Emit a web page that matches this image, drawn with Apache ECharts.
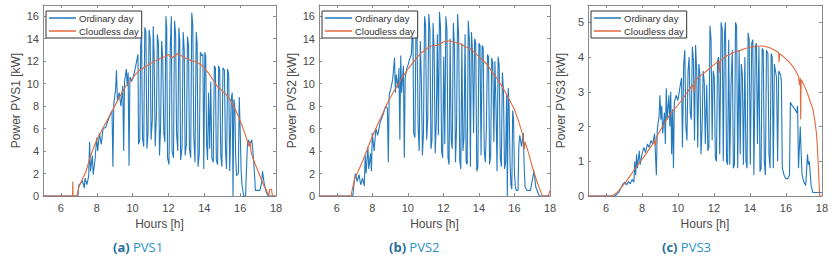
<!DOCTYPE html>
<html>
<head>
<meta charset="utf-8">
<script src="https://cdn.jsdelivr.net/npm/echarts@6/dist/echarts.min.js"></script>
<style>
  html, body { margin: 0; padding: 0; background: #fff; }
  #chart { width: 831px; height: 262px; }
</style>
</head>
<body>
<div id="chart"></div>
<script>
// hour ticks shared by all three panels
const hourTicks = [6, 8, 10, 12, 14, 16, 18];
const kwTicksBig = [0, 2, 4, 6, 8, 10, 12, 14, 16];
const kwTicksSmall = [0, 1, 2, 3, 4, 5];

// PVS1 [hour, kW]
const pvs1Ordinary = [[5,0],[6.95,0],[7.0,1.0],[7.1,1.1],[7.2,1.4],[7.3,0.7],[7.35,1.6],[7.45,1.0],[7.55,1.8],[7.6,4.8],[7.65,2.2],[7.75,3.6],[7.8,1.9],[7.9,3.2],[8.0,5.2],[8.05,4.0],[8.15,5.6],[8.25,4.6],[8.35,6.0],[8.5,6.1],[8.6,6.6],[8.75,7.2],[8.85,7.6],[8.9,2.6],[8.95,8.2],[9.05,9.5],[9.1,11.2],[9.15,8.5],[9.25,9.2],[9.35,8.0],[9.45,9.8],[9.5,4.0],[9.55,10.2],[9.65,11.3],[9.7,9.8],[9.75,11.0],[9.8,2.7],[9.85,10.6],[9.95,10.2],[10.0,10.4],[10.1,11.0],[10.2,11.8],[10.3,12.6],[10.33,4.6],[10.4,5.0],[10.45,13.4],[10.5,14.6],[10.55,5.2],[10.62,4.4],[10.68,15.0],[10.74,14.6],[10.8,4.2],[10.86,5.6],[10.92,14.8],[10.98,14.0],[11.03,5.0],[11.1,6.8],[11.15,15.1],[11.2,12.6],[11.26,4.4],[11.33,7.2],[11.38,14.4],[11.44,13.6],[11.5,3.6],[11.56,6.0],[11.62,13.8],[11.68,12.2],[11.74,5.6],[11.8,4.8],[11.86,16.0],[11.9,15.0],[11.95,3.4],[12.03,2.8],[12.1,13.2],[12.16,16.0],[12.2,4.0],[12.28,3.4],[12.34,15.6],[12.4,14.4],[12.45,5.6],[12.52,4.0],[12.58,15.0],[12.63,13.8],[12.68,3.2],[12.76,4.4],[12.82,14.6],[12.88,13.0],[12.93,3.6],[13.0,4.6],[13.06,14.2],[13.12,13.4],[13.17,4.2],[13.24,3.4],[13.3,16.3],[13.36,15.2],[13.41,5.4],[13.48,3.0],[13.55,14.6],[13.6,13.6],[13.65,2.6],[13.72,3.8],[13.78,12.8],[13.85,12.5],[13.92,12.6],[13.97,2.4],[14.03,12.8],[14.08,12.4],[14.13,4.6],[14.18,3.2],[14.24,9.2],[14.3,4.2],[14.36,10.2],[14.42,3.4],[14.5,3.0],[14.56,11.6],[14.62,11.4],[14.67,3.2],[14.74,2.8],[14.8,11.6],[14.86,11.2],[14.92,3.6],[14.98,2.6],[15.04,11.4],[15.12,11.2],[15.18,4.2],[15.24,2.4],[15.3,11.3],[15.36,10.8],[15.42,2.2],[15.5,8.6],[15.56,9.2],[15.6,0],[15.65,8.6],[15.7,8.0],[15.75,3.5],[15.8,1.8],[15.9,2.0],[15.95,8.8],[16.0,6.0],[16.05,2.5],[16.1,1.0],[16.2,0],[16.3,0],[16.4,4.4],[16.45,5.0],[16.55,4.6],[16.65,5.0],[16.7,4.2],[16.8,2.0],[16.85,0.5],[17.0,0.5],[17.1,0.5],[17.2,1.2],[17.25,2.2],[17.35,1.0],[17.45,0.4],[17.55,0],[18,0]];
const pvs1Cloudless = [[5,0],[6.65,0],[6.66,1.3],[6.68,0],[6.9,0],[7.0,0.8],[7.2,1.5],[7.4,2.2],[7.6,3.3],[7.8,4.2],[8.0,5.0],[8.2,5.6],[8.4,6.2],[8.6,6.8],[8.8,7.4],[9.0,8.0],[9.2,8.6],[9.4,9.2],[9.6,9.7],[9.8,10.1],[10.0,10.5],[10.2,10.9],[10.4,11.2],[10.6,11.4],[10.8,11.6],[11.0,11.8],[11.2,12.0],[11.4,12.1],[11.6,12.3],[11.8,12.4],[12.0,12.6],[12.1,12.4],[12.2,12.3],[12.4,12.5],[12.5,12.7],[12.7,12.5],[12.9,12.3],[13.1,12.2],[13.3,12.0],[13.5,12.0],[13.7,11.8],[13.9,11.6],[14.1,11.2],[14.3,10.8],[14.5,10.3],[14.7,9.8],[14.9,9.5],[15.1,9.2],[15.3,8.9],[15.5,8.4],[15.7,7.8],[15.9,7.1],[16.1,6.3],[16.3,5.4],[16.5,4.4],[16.55,4.9],[16.6,4.0],[16.7,3.4],[16.9,2.6],[17.1,1.8],[17.3,1.0],[17.5,0.4],[17.6,0],[17.65,0.6],[17.75,0.6],[17.8,0],[18,0]];

// PVS2 [hour, kW]
const pvs2Ordinary = [[5,0],[6.9,0],[7.0,1.5],[7.05,2.0],[7.15,1.3],[7.25,1.9],[7.35,1.0],[7.45,1.6],[7.55,0.9],[7.6,3.6],[7.65,2.0],[7.75,4.4],[7.8,2.4],[7.9,3.8],[7.95,2.2],[8.0,5.6],[8.1,4.0],[8.2,6.0],[8.3,5.4],[8.45,6.6],[8.6,7.2],[8.75,8.0],[8.85,7.8],[8.9,3.0],[8.95,9.0],[9.05,9.6],[9.15,10.4],[9.25,12.3],[9.3,9.2],[9.35,10.8],[9.45,9.6],[9.5,11.4],[9.55,5.0],[9.6,12.5],[9.65,9.2],[9.75,11.6],[9.8,3.4],[9.85,10.5],[9.95,11.4],[10.0,11.6],[10.1,12.2],[10.2,12.6],[10.28,15.8],[10.33,5.6],[10.4,5.2],[10.46,15.6],[10.52,14.0],[10.58,6.0],[10.64,4.0],[10.7,13.8],[10.76,10.4],[10.82,3.6],[10.88,5.6],[10.94,16.0],[11.0,15.2],[11.06,5.0],[11.12,7.0],[11.18,16.2],[11.24,14.8],[11.3,4.2],[11.36,5.0],[11.42,15.4],[11.48,13.0],[11.54,3.8],[11.6,6.4],[11.66,14.4],[11.72,5.4],[11.78,16.4],[11.84,15.0],[11.9,4.0],[11.96,3.4],[12.02,12.4],[12.08,4.6],[12.14,16.0],[12.2,14.8],[12.26,3.4],[12.32,2.8],[12.38,14.0],[12.44,5.0],[12.5,4.2],[12.56,15.4],[12.62,13.4],[12.68,3.0],[12.74,6.0],[12.8,16.2],[12.86,14.2],[12.92,3.2],[12.98,2.4],[13.04,13.6],[13.1,4.0],[13.16,5.2],[13.22,14.4],[13.28,3.0],[13.34,2.8],[13.4,15.6],[13.46,14.0],[13.52,2.6],[13.58,14.6],[13.64,12.8],[13.7,5.6],[13.76,14.0],[13.82,13.6],[13.88,2.2],[13.94,2.6],[14.0,13.6],[14.06,13.4],[14.12,3.6],[14.18,13.4],[14.24,13.2],[14.3,4.0],[14.36,3.0],[14.42,6.0],[14.48,12.6],[14.54,12.4],[14.6,2.8],[14.66,3.6],[14.72,12.3],[14.78,11.8],[14.84,4.8],[14.9,12.0],[14.96,8.0],[15.02,2.2],[15.08,12.4],[15.14,11.6],[15.2,3.4],[15.26,2.6],[15.32,11.0],[15.38,9.4],[15.44,2.4],[15.5,3.0],[15.56,9.0],[15.6,0],[15.65,9.6],[15.7,8.0],[15.75,3.0],[15.8,1.0],[15.85,0.6],[15.9,7.6],[15.95,6.8],[16.0,2.0],[16.05,0.8],[16.1,0.5],[16.2,0.5],[16.25,4.6],[16.3,5.4],[16.4,4.4],[16.5,5.6],[16.55,2.4],[16.6,0.8],[16.7,0.5],[16.9,0.5],[17.0,1.4],[17.1,2.2],[17.2,0.8],[17.3,0.4],[17.4,0],[18,0]];
const pvs2Cloudless = [[5,0],[6.8,0],[6.9,0.8],[7.0,1.5],[7.2,2.2],[7.4,2.9],[7.6,3.7],[7.8,4.5],[8.0,5.3],[8.2,6.0],[8.4,6.7],[8.6,7.4],[8.8,8.1],[9.0,8.7],[9.2,9.3],[9.4,9.8],[9.6,10.3],[9.8,10.8],[10.0,11.3],[10.2,11.7],[10.4,12.1],[10.6,12.5],[10.8,12.8],[11.0,13.0],[11.2,13.3],[11.4,13.4],[11.6,13.4],[11.8,13.5],[12.0,13.7],[12.2,13.8],[12.4,13.8],[12.6,13.7],[12.8,13.6],[13.0,13.5],[13.2,13.3],[13.4,13.2],[13.6,13.0],[13.8,12.7],[14.0,12.4],[14.2,12.1],[14.4,11.8],[14.6,11.4],[14.8,10.9],[15.0,10.5],[15.2,10.0],[15.4,9.5],[15.6,8.9],[15.8,8.3],[16.0,7.7],[16.2,6.8],[16.4,5.8],[16.5,5.2],[16.55,4.2],[16.6,4.8],[16.8,3.8],[17.0,2.6],[17.2,1.6],[17.4,0.7],[17.55,0.1],[17.6,0],[17.9,0],[18,0.5]];

// PVS3 [hour, kW]
const pvs3Ordinary = [[5,0],[6.5,0],[6.7,0.1],[6.85,0.25],[6.95,0.35],[7.05,0.4],[7.15,0.32],[7.25,0.42],[7.35,0.35],[7.45,0.48],[7.55,0.4],[7.6,1.0],[7.65,0.6],[7.7,1.2],[7.75,0.8],[7.85,1.3],[7.9,0.9],[8.0,1.2],[8.1,1.4],[8.2,1.25],[8.3,1.5],[8.4,1.4],[8.5,1.6],[8.6,1.5],[8.7,1.8],[8.8,0.6],[8.85,1.9],[8.95,2.3],[9.0,2.9],[9.05,2.2],[9.1,2.6],[9.15,1.8],[9.25,2.4],[9.3,1.5],[9.35,3.1],[9.4,2.2],[9.5,2.9],[9.55,2.0],[9.6,3.0],[9.65,1.2],[9.7,2.5],[9.75,0.8],[9.8,2.7],[9.9,2.9],[10.0,2.75],[10.1,3.1],[10.2,3.4],[10.25,1.4],[10.32,3.8],[10.38,4.2],[10.44,2.0],[10.5,1.6],[10.56,3.6],[10.62,4.0],[10.68,2.4],[10.74,2.2],[10.8,4.3],[10.86,3.9],[10.92,1.6],[10.98,4.35],[11.04,3.6],[11.1,1.4],[11.16,3.8],[11.22,3.5],[11.28,1.2],[11.34,1.9],[11.4,3.6],[11.46,3.3],[11.52,1.5],[11.6,3.2],[11.66,1.3],[11.72,1.4],[11.78,4.9],[11.84,4.5],[11.9,1.6],[11.96,3.6],[12.02,3.4],[12.08,1.1],[12.14,1.0],[12.2,3.9],[12.26,4.0],[12.32,1.2],[12.4,5.0],[12.46,4.8],[12.52,1.0],[12.58,4.6],[12.64,5.0],[12.7,1.0],[12.76,0.9],[12.82,4.5],[12.88,0.9],[12.95,3.2],[13.02,4.2],[13.08,0.8],[13.14,0.9],[13.2,5.0],[13.26,4.9],[13.32,0.8],[13.4,4.2],[13.46,1.2],[13.52,3.8],[13.58,3.5],[13.64,0.9],[13.72,4.0],[13.78,1.0],[13.84,0.8],[13.9,4.7],[13.96,4.5],[14.02,0.9],[14.1,4.4],[14.16,4.5],[14.22,0.6],[14.3,4.3],[14.36,4.4],[14.42,1.5],[14.5,4.3],[14.56,0.7],[14.62,0.8],[14.68,4.25],[14.74,4.2],[14.8,1.0],[14.86,0.6],[14.92,4.2],[15.0,4.1],[15.06,1.2],[15.12,0.8],[15.18,4.1],[15.24,4.0],[15.3,0.8],[15.36,3.8],[15.42,3.6],[15.48,3.4],[15.54,1.0],[15.6,3.6],[15.7,3.5],[15.75,3.3],[15.8,0.8],[15.9,0.6],[16.0,0.5],[16.1,0.5],[16.2,0.6],[16.25,2.7],[16.35,2.6],[16.5,2.5],[16.6,2.4],[16.65,2.6],[16.7,0.8],[16.8,2.0],[16.85,1.2],[16.9,0.6],[17.0,0.4],[17.1,0.3],[17.2,1.2],[17.25,0.9],[17.3,1.0],[17.4,0.3],[17.5,0.1],[18,0.1]];
const pvs3Cloudless = [[5,0],[6.3,0],[6.5,0.05],[6.7,0.15],[6.9,0.28],[7.1,0.4],[7.3,0.55],[7.5,0.7],[7.7,0.85],[7.9,1.0],[8.1,1.12],[8.3,1.27],[8.5,1.42],[8.7,1.6],[8.75,1.45],[8.8,1.7],[9.0,1.88],[9.2,2.05],[9.4,2.22],[9.6,2.38],[9.8,2.5],[10.0,2.62],[10.2,2.75],[10.4,2.9],[10.6,3.05],[10.8,3.2],[10.9,3.0],[10.95,3.3],[11.1,3.4],[11.3,3.48],[11.5,3.56],[11.7,3.65],[11.9,3.74],[12.1,3.82],[12.3,3.88],[12.32,3.55],[12.35,3.9],[12.5,3.96],[12.7,4.03],[12.9,4.08],[13.1,4.13],[13.3,4.17],[13.5,4.2],[13.7,4.24],[13.9,4.27],[14.1,4.29],[14.3,4.31],[14.5,4.32],[14.7,4.32],[14.9,4.3],[15.1,4.27],[15.3,4.22],[15.5,4.16],[15.6,4.12],[15.62,3.85],[15.65,4.1],[15.8,4.04],[16.0,3.95],[16.2,3.85],[16.4,3.72],[16.6,3.55],[16.7,3.45],[16.75,3.2],[16.8,3.4],[16.82,2.2],[16.85,3.35],[17.0,3.2],[17.2,2.95],[17.4,2.65],[17.5,2.5],[17.6,2.2],[17.7,1.8],[17.75,1.4],[17.8,0.9],[17.85,0.3],[17.88,0],[18,0]];

const panels = [
  { left: 43, width: 233, yMax: 17, yTicks: kwTicksBig, yName: 'Power PVS1 [kW]', ord: pvs1Ordinary, clear: pvs1Cloudless, tag: '(a)', cap: 'PVS1', capX: 141 },
  { left: 319, width: 231, yMax: 17, yTicks: kwTicksBig, yName: 'Power PVS2 [kW]', ord: pvs2Ordinary, clear: pvs2Cloudless, tag: '(b)', cap: 'PVS2', capX: 417 },
  { left: 588, width: 234, yMax: 5.5, yTicks: kwTicksSmall, yName: 'Power PVS3 [kW]', ord: pvs3Ordinary, clear: pvs3Cloudless, tag: '(c)', cap: 'PVS3', capX: 690 }
];

const axisColor = '#8a8a8a';
const labelColor = '#4a4a4a';
const blue = '#2279bd';
const orange = '#e2693d';
const font = 'Liberation Sans, Arial, sans-serif';

let grid = [], xAxis = [], yAxis = [], series = [], legend = [], graphic = [];

panels.forEach((p, i) => {
  grid.push({ left: p.left, width: p.width, top: 5, height: 191 });

  const tickBase = { show: true, inside: true, length: 3, lineStyle: { color: axisColor } };
  const lineBase = { show: true, onZero: false, lineStyle: { color: axisColor, width: 1 } };

  xAxis.push({
    type: 'value', gridIndex: i, min: 5, max: 18,
    axisLine: lineBase,
    axisTick: Object.assign({ customValues: hourTicks }, tickBase),
    axisLabel: { customValues: hourTicks, color: labelColor, fontSize: 11, fontFamily: font, margin: 6 },
    splitLine: { show: false },
    name: 'Hours [h]', nameLocation: 'middle', nameGap: 22,
    nameTextStyle: { color: labelColor, fontSize: 12, fontFamily: font }
  });
  xAxis.push({
    type: 'value', gridIndex: i, min: 5, max: 18, position: 'top',
    axisLine: lineBase,
    axisTick: Object.assign({ customValues: hourTicks }, tickBase),
    axisLabel: { show: false },
    splitLine: { show: false }
  });
  yAxis.push({
    type: 'value', gridIndex: i, min: 0, max: p.yMax,
    axisLine: lineBase,
    axisTick: Object.assign({ customValues: p.yTicks }, tickBase),
    axisLabel: { customValues: p.yTicks, color: labelColor, fontSize: 11, fontFamily: font, margin: 4 },
    splitLine: { show: false },
    name: p.yName, nameLocation: 'middle', nameGap: 21, nameRotate: 90,
    nameTextStyle: { color: labelColor, fontSize: 12, fontFamily: font }
  });
  yAxis.push({
    type: 'value', gridIndex: i, min: 0, max: p.yMax, position: 'right',
    axisLine: lineBase,
    axisTick: Object.assign({ customValues: p.yTicks }, tickBase),
    axisLabel: { show: false },
    splitLine: { show: false }
  });

  series.push({
    name: 'Ordinary day', type: 'line', xAxisIndex: i * 2, yAxisIndex: i * 2,
    data: p.ord, symbol: 'none', lineStyle: { color: blue, width: 1.1 }, itemStyle: { color: blue }, z: 2
  });
  series.push({
    name: 'Cloudless day', type: 'line', xAxisIndex: i * 2, yAxisIndex: i * 2,
    data: p.clear, symbol: 'none', lineStyle: { color: orange, width: 1.1 }, itemStyle: { color: orange }, z: 3
  });

  legend.push({
    data: ['Ordinary day', 'Cloudless day'],
    left: p.left + 3, top: 11, orient: 'vertical',
    icon: 'rect', itemWidth: 27, itemHeight: 1.5, itemGap: 3,
    padding: [2, 3, 2, 3],
    backgroundColor: '#fff', borderColor: '#333', borderWidth: 1, borderRadius: 0,
    textStyle: { color: '#333', fontSize: 9.5, fontFamily: font, padding: [0, 0, 0, -2] },
    selectedMode: false
  });

  graphic.push({
    type: 'text', left: p.capX - 28, top: 240,
    style: {
      text: '{b|' + p.tag + '} {n|' + p.cap + '}',
      rich: {
        b: { fontFamily: 'Open Sans, sans-serif', fontWeight: 'bold', fontSize: 13, fill: '#1f6f99' },
        n: { fontFamily: 'Open Sans, sans-serif', fontSize: 13, fill: '#2a93c4' }
      }
    }
  });
});

const myChart = echarts.init(document.getElementById('chart'), null, { renderer: 'svg' });
myChart.setOption({
  backgroundColor: '#fff',
  animation: false,
  grid: grid,
  xAxis: xAxis,
  yAxis: yAxis,
  legend: legend,
  series: series,
  graphic: graphic
});
</script>
</body>
</html>
